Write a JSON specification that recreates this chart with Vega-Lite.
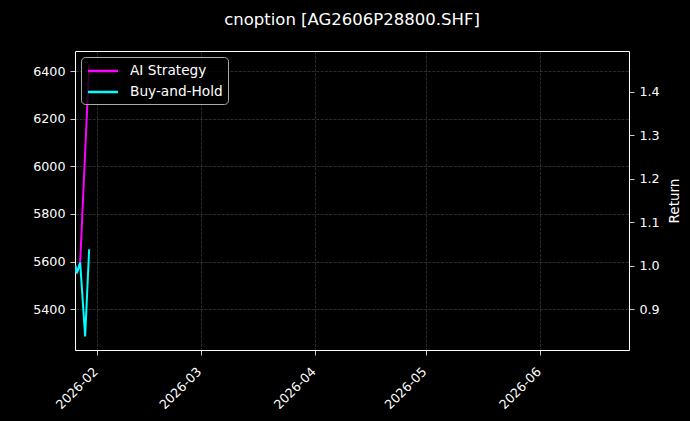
{
  "$schema": "https://vega.github.io/schema/vega-lite/v6.json",
  "width": 554,
  "height": 299,
  "autosize": {"type": "none"},
  "padding": {"left": 75, "top": 51, "right": 61, "bottom": 71},
  "background": "black",
  "title": {
    "text": "cnoption [AG2606P28800.SHF]",
    "anchor": "middle",
    "frame": "group",
    "baseline": "alphabetic",
    "offset": 10,
    "font": "DejaVu Sans",
    "fontSize": 16.5,
    "fontWeight": "normal",
    "color": "white"
  },
  "layer": [
    {
      "mark": {"type": "rule", "opacity": 0},
      "encoding": {
        "y": {
          "datum": 5400,
          "type": "quantitative",
          "title": "Price",
          "scale": {"domain": [5229, 6484], "nice": false, "zero": false},
          "axis": {
            "orient": "left",
            "values": [5400, 5600, 5800, 6000, 6200, 6400],
            "format": "d",
            "titlePadding": 8
          }
        }
      }
    },
    {
      "data": {
        "values": [
          {"date": "2026-01-26T03:00", "series": "AI Strategy", "ret": 1.0},
          {"date": "2026-01-26T12:00", "series": "AI Strategy", "ret": 0.9825},
          {"date": "2026-01-27T09:30", "series": "AI Strategy", "ret": 1.007},
          {"date": "2026-01-28T18:00", "series": "AI Strategy", "ret": 1.261},
          {"date": "2026-01-29T20:00", "series": "AI Strategy", "ret": 1.462},
          {"date": "2026-01-26T03:00", "series": "Buy-and-Hold", "ret": 1.0},
          {"date": "2026-01-26T12:00", "series": "Buy-and-Hold", "ret": 0.9825},
          {"date": "2026-01-27T09:30", "series": "Buy-and-Hold", "ret": 1.007},
          {"date": "2026-01-28T18:00", "series": "Buy-and-Hold", "ret": 0.837},
          {"date": "2026-01-29T20:00", "series": "Buy-and-Hold", "ret": 1.038}
        ]
      },
      "mark": {"type": "line", "strokeWidth": 2, "clip": true},
      "encoding": {
        "x": {
          "field": "date",
          "type": "temporal",
          "title": null,
          "scale": {
            "domain": [
              {"year": 2026, "month": 1, "date": 26},
              {"year": 2026, "month": 6, "date": 25}
            ]
          },
          "axis": {
            "values": [
              {"year": 2026, "month": 2, "date": 1},
              {"year": 2026, "month": 3, "date": 1},
              {"year": 2026, "month": 4, "date": 1},
              {"year": 2026, "month": 5, "date": 1},
              {"year": 2026, "month": 6, "date": 1}
            ],
            "format": "%Y-%m",
            "labelAngle": -45,
            "labelAlign": "right",
            "labelBaseline": "top",
            "labelPadding": 10,
            "labelOffset": -6
          }
        },
        "y": {
          "field": "ret",
          "type": "quantitative",
          "title": "Return",
          "scale": {"domain": [0.806, 1.494], "nice": false, "zero": false},
          "axis": {
            "orient": "right",
            "values": [0.9, 1.0, 1.1, 1.2, 1.3, 1.4],
            "format": ".1f",
            "titleAngle": 270,
            "titleBaseline": "top",
            "titlePadding": 8
          }
        },
        "color": {
          "field": "series",
          "type": "nominal",
          "scale": {
            "domain": ["AI Strategy", "Buy-and-Hold"],
            "range": ["#ff00ff", "#00ffff"]
          },
          "legend": {
            "title": null,
            "orient": "top-left",
            "offset": 6,
            "symbolType": "M-2,0H2",
            "symbolSize": 225,
            "symbolOffset": 8,
            "symbolStrokeWidth": 2.5,
            "labelOffset": 18,
            "rowPadding": 5,
            "padding": 5,
            "cornerRadius": 4,
            "fillColor": "rgba(0,0,0,0.8)",
            "strokeColor": "#aaaaaa"
          }
        }
      }
    }
  ],
  "resolve": {"scale": {"y": "independent"}},
  "config": {
    "font": "DejaVu Sans",
    "view": {"stroke": "white", "strokeWidth": 1},
    "axis": {
      "domain": false,
      "grid": true,
      "gridColor": "#b0b0b0",
      "gridOpacity": 0.3,
      "gridDash": [3, 1.3],
      "gridWidth": 0.8,
      "ticks": true,
      "tickColor": "white",
      "tickSize": 5,
      "tickWidth": 0.8,
      "labelColor": "white",
      "labelFont": "DejaVu Sans",
      "labelFontSize": 12.7,
      "labelPadding": 5,
      "titleColor": "white",
      "titleFont": "DejaVu Sans",
      "titleFontSize": 13.5,
      "titleFontWeight": "normal"
    },
    "legend": {
      "labelColor": "white",
      "labelFont": "DejaVu Sans",
      "labelFontSize": 13.7
    }
  }
}
